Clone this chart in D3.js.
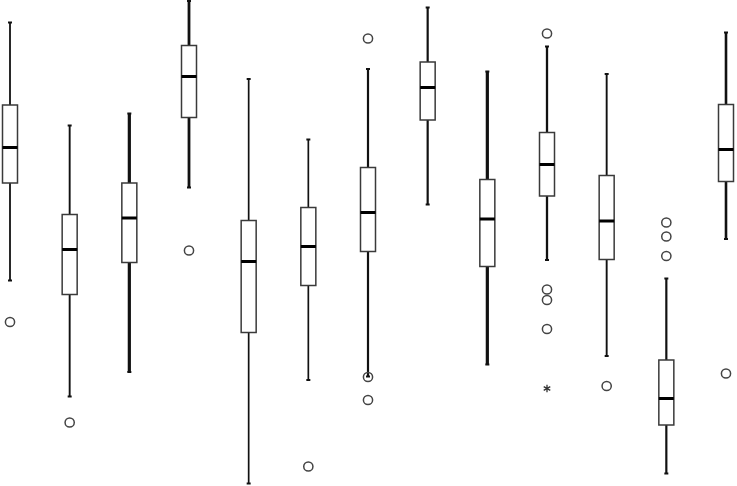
<!DOCTYPE html>
<html>
<head>
<meta charset="utf-8">
<script src="https://cdn.jsdelivr.net/npm/d3@7/dist/d3.min.js"></script>
<style>
  html, body { margin: 0; padding: 0; background: #fff; }
  svg { display: block; }
</style>
</head>
<body>
<svg id="chart" width="737" height="486"></svg>
<script>
// ---- data ----
const categories = ["1","2","3","4","5","6","7","8","9","10","11","12","13"];
const whiskerHigh = [92.7, 72.1, 74.5, 97.0, 81.4, 69.3, 83.4, 95.7, 82.9, 87.9, 82.4, 41.5, 90.7];
const q3          = [76.2, 54.3, 60.6, 88.1, 53.1, 55.7, 63.7, 84.8, 61.3, 70.7, 62.1, 25.2, 76.3];
const medians     = [67.7, 47.3, 53.6, 81.9, 44.9, 47.9, 54.7, 79.7, 53.4, 64.3, 53.0, 17.5, 67.3];
const q1          = [60.6, 38.3, 44.7, 73.7, 30.7, 40.1, 46.9, 73.2, 43.9, 58.0, 45.3, 12.2, 60.9];
const whiskerLow  = [41.1, 17.9, 22.8, 59.7,  0.5, 21.2, 21.9, 56.3, 24.3, 45.2, 26.0,  2.5, 49.4];
const outliers = [
  [32.8], [12.7], [], [47.1], [], [3.9], [89.5, 21.8, 17.2], [], [],
  [90.5, 39.3, 37.2, 31.4], [20.0], [52.7, 49.9, 46.0], [22.5]
];
const extremes = [[], [], [], [], [], [], [], [], [], [19.5], [], [], []];

// ---- styles (not data) ----
const whiskerWidth = [1.8, 1.9, 3.2, 2.8, 1.7, 1.7, 2.2, 2.2, 3.2, 2.3, 1.9, 2.2, 2.6];

const svg = d3.select("#chart");
const x = d3.scalePoint().domain(categories).range([10, 726]);
const y = d3.scaleLinear().domain([0, 97.2]).range([486, 0]);
const boxW = 15;

const rows = categories.map((c, i) => ({
  c, i, hi: whiskerHigh[i], q3: q3[i], med: medians[i], q1: q1[i], lo: whiskerLow[i],
  out: outliers[i], ext: extremes[i], ww: whiskerWidth[i]
}));

const g = svg.selectAll("g.box").data(rows).enter().append("g").attr("class", "box");

// whiskers
g.append("line")
  .attr("x1", d => x(d.c)).attr("x2", d => x(d.c))
  .attr("y1", d => y(d.hi)).attr("y2", d => y(d.q3))
  .attr("stroke", "#111").attr("stroke-width", d => d.ww);
g.append("line")
  .attr("x1", d => x(d.c)).attr("x2", d => x(d.c))
  .attr("y1", d => y(d.q1)).attr("y2", d => y(d.lo))
  .attr("stroke", "#111").attr("stroke-width", d => d.ww);
// caps
g.append("line")
  .attr("x1", d => x(d.c) - 2).attr("x2", d => x(d.c) + 2)
  .attr("y1", d => y(d.hi)).attr("y2", d => y(d.hi))
  .attr("stroke", "#111").attr("stroke-width", 2);
g.append("line")
  .attr("x1", d => x(d.c) - 2).attr("x2", d => x(d.c) + 2)
  .attr("y1", d => y(d.lo)).attr("y2", d => y(d.lo))
  .attr("stroke", "#111").attr("stroke-width", 2);
// box
g.append("rect")
  .attr("x", d => x(d.c) - boxW / 2)
  .attr("width", boxW)
  .attr("y", d => y(d.q3))
  .attr("height", d => y(d.q1) - y(d.q3))
  .attr("fill", "#fff").attr("stroke", "#3a3a3a").attr("stroke-width", 1.5);
// median
g.append("line")
  .attr("x1", d => x(d.c) - boxW / 2).attr("x2", d => x(d.c) + boxW / 2)
  .attr("y1", d => y(d.med)).attr("y2", d => y(d.med))
  .attr("stroke", "#000").attr("stroke-width", 3);

// outliers
g.selectAll("circle.out").data(d => d.out.map(v => ({ c: d.c, v }))).enter()
  .append("circle").attr("class", "out")
  .attr("cx", d => x(d.c)).attr("cy", d => y(d.v)).attr("r", 4.6)
  .attr("fill", "none").attr("stroke", "#444").attr("stroke-width", 1.5);

// extremes
g.selectAll("path.ext").data(d => d.ext.map(v => ({ c: d.c, v }))).enter()
  .append("path").attr("class", "ext")
  .attr("transform", d => `translate(${x(d.c)},${y(d.v)})`)
  .attr("d", d3.symbol(d3.symbolAsterisk, 40)())
  .attr("fill", "none").attr("stroke", "#333").attr("stroke-width", 1.3);
</script>
</body>
</html>
